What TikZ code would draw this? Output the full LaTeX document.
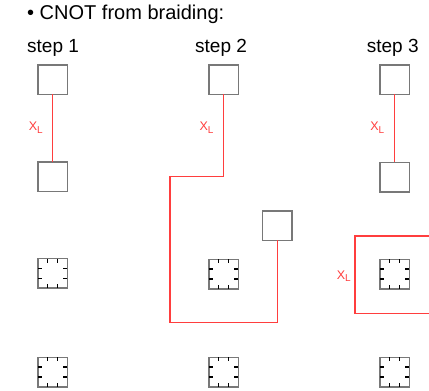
\documentclass[tikz,border=0pt]{standalone}
\usepackage{fontspec}
\setmainfont{Liberation Sans}
\definecolor{braidred}{RGB}{255,62,62}
\definecolor{boxgray}{RGB}{120,120,120}
\tikzset{
  holebox/.style={draw=boxgray, line width=1.5pt, minimum size=29.5pt, inner sep=0pt, outer sep=0pt, fill=white},
  dotbox/.style={holebox},
  tick/.style={draw=black, line width=1.3pt},
  braid/.style={draw=braidred, line width=1.4pt},
  xl/.style={text=braidred, inner sep=0pt},
  steptitle/.style={anchor=base west, inner sep=0pt, font=\fontsize{19}{19}\selectfont},
}
\newcommand{\XLlabel}{{\fontsize{12.5}{12.5}\selectfont X}\raisebox{-2.6pt}{\fontsize{10}{10}\selectfont L}}
\begin{document}
\begin{tikzpicture}[x=1pt,y=-1pt]
\clip (0,0) rectangle (429,391);
\fill[white] (0,0) rectangle (429,391);
% titles
\node[anchor=base west, inner sep=0pt, font=\fontsize{20}{20}\selectfont] (title) at (27,19.3) {• CNOT from braiding:};
\node[steptitle] (st1) at (27,52.3) {step 1};
\node[steptitle] (st2) at (195,52.3) {step 2};
\node[steptitle] (st3) at (366.7,52.3) {step 3};
% step 1
\node[holebox] (s1a) at (52.5,79.7) {};
\node[holebox] (s1b) at (52.5,176.8) {};
\node[dotbox] (d1a) at (52.5,273.3) {};
\node[dotbox] (d1b) at (52.5,372) {};
\draw[braid] (s1a.south) -- (s1b.north);
\node[xl] (x1) at (35.8,127.5) {\XLlabel};
% step 2
\node[holebox] (s2a) at (223.6,79.7) {};
\node[holebox] (s2r) at (277.3,225.5) {};
\node[dotbox] (d2a) at (223.6,274) {};
\node[dotbox] (d2b) at (223.6,372) {};
\coordinate (c1) at (170,176.7);
\coordinate (c2) at (170,322.7);
\draw[braid] (s2a.south) |- (c1) -- (c2) -| (s2r.south);
\node[xl] (x2) at (206.5,127.8) {\XLlabel};
% step 3
\node[holebox] (s3a) at (394.5,79.7) {};
\node[holebox] (s3b) at (394.5,177) {};
\node[dotbox] (d3a) at (394.5,274) {};
\node[dotbox] (d3b) at (394.6,372) {};
\draw[braid] (s3a.south) -- (s3b.north);
\node[xl] (x3) at (377.3,127.8) {\XLlabel};
\coordinate (l1) at (440,236);
\coordinate (l2) at (355,236);
\coordinate (l3) at (355,313.3);
\coordinate (l4) at (440,313.3);
\draw[braid] (l1) -- (l2) -- (l3) -- (l4);
\node[xl] (x4) at (343.8,276) {\XLlabel};
% ticks of the dotted boxes
\foreach \n in {d1a,d1b,d2a,d2b,d3a,d3b}{
  \foreach \t in {9.8,19.7}{
    \draw[tick] ([xshift=\t pt]\n.north west) -- ++(0,4.2);
    \draw[tick] ([xshift=\t pt]\n.south west) -- ++(0,-4.2);
    \draw[tick] ([yshift=-\t pt]\n.north west) -- ++(4.2,0);
    \draw[tick] ([yshift=-\t pt]\n.north east) -- ++(-4.2,0);
  }
}
\end{tikzpicture}
\end{document}
